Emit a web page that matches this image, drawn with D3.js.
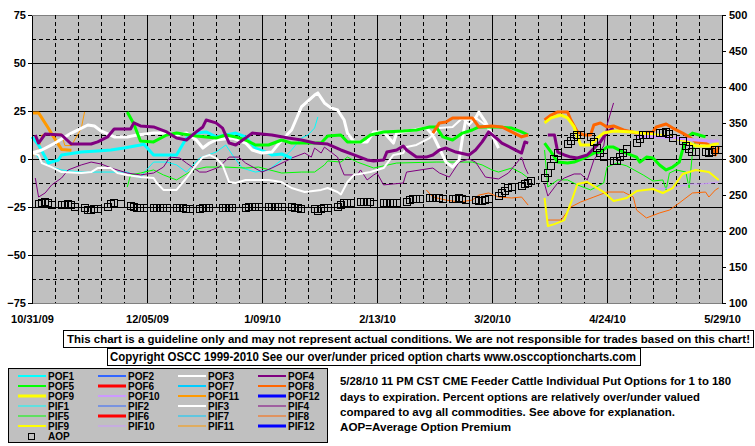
<!DOCTYPE html>
<html><head><meta charset="utf-8">
<script src="https://cdn.jsdelivr.net/npm/d3@7"></script>
<style>
body{margin:0;background:#fff;}
svg{display:block;font-family:"Liberation Sans",Arial,sans-serif;font-weight:bold;}
</style>
</head><body>
<svg id="chart" width="755" height="446"></svg>
<script>
// ---------- DATA ----------
const startDate = "10/31/09", endDate = "5/29/10";
const xTickLabels = ["10/31/09","12/05/09","1/09/10","2/13/10","3/20/10","4/24/10","5/29/10"];
const leftTicks = [-75,-50,-25,0,25,50,75];
const rightTicks = [100,150,200,250,300,350,400,450,500];
const legendNames = ["POF1","POF2","POF3","POF4","POF5","POF6","POF7","POF8","POF9","POF10","POF11","POF12",
                     "PIF1","PIF2","PIF3","PIF4","PIF5","PIF6","PIF7","PIF8","PIF9","PIF10","PIF11","PIF12"];
const disclaimer = "This chart is a guideline only and may not represent actual conditions. We are not responsible for trades based on this chart!";
const copyright = "Copyright OSCC 1999-2010 See our over/under priced option charts www.osccoptioncharts.com";
const descLines = ["5/28/10 11 PM CST CME Feeder Cattle Individual Put Options for 1 to 180",
                   "days to expiration. Percent options are relatively over/under valued",
                   "compared to avg all commodities. See above for explanation.",
                   "AOP=Average Option Premium"];

// series: [days since 10/31/09, percent]; null = break in data
const POF1 = [[0,11.5],[2,7.3],[5,-2.1],[8,-0.5],[9,2.1],[15,3.6],[20,4.2],[24,4.7],[28,5.7],[33,7.3],[34,7.8],[37,2.1],[44,2.1],[47,10.9],[50,13.5],[53,14.1],[56,11.5],[59,12.5],[62,13.5],[65,11.5],[68,5.7],[72,3.1],[73,2.1],[76,2.6],[79,0.5]];
const POF3 = [[0,3.1],[3,4.7],[7,8.3],[12,13.5],[17,17.7],[19,17.2],[21,14.6],[25,11.5],[29,11.5],[32,12.5],[37,13.5],[41,13.5],[44,12.5],[47,13.5],[50,9.9],[52,5.7],[54,8.3],[56,9.9],[61,10.9],[65,8.3],[67,4.7],[70,3.1],[73,3.6],[76,9.9],[79,15.1],[82,27.1],[86,33.3],[87,34.4],[89,29.2],[91,26.6],[93,25.5],[95,20.3],[96,13.5],[98,8.9],[102,8.9],[104,14.1],[107,14.1],[110,8.3],[111,13.5],[116,15.1],[120,16.1],[122,12.5],[126,-1.6],[128,-4.2],[130,-0.5],[131,10.9],[132,20.3],[135,21.4],[136,24.5],[138,19.3],[140,12.5],[142,5.7]];
const POF4 = [[1,12.5],[2,8.3],[4,13],[9,12.5],[12,7.8],[18,7.8],[20,8.9],[23,11.5],[25,15.6],[30,15.6],[31,18.8],[33,17.2],[37,16.7],[41,14.1],[44,10.9],[47,9.9],[50,14.1],[52,16.7],[53,20.3],[56,18.8],[58,16.1],[60,8.3],[62,7.3],[65,10.9],[67,13.5],[73,12.5],[78,10.9],[82,9.9],[86,8.3],[90,7.8],[94,4.7],[98,2.1],[102,-0.5],[104,-1],[107,-0.5],[108,3.6],[111,4.7],[113,6.8],[114,4.7],[117,1],[120,1],[122,2.1],[124,4.7],[126,5.7],[129,3.6],[133,2.1],[135,4.7],[137,8.9],[139,14.1],[142,9.9],[143,8.3],[146,5.7],[149,3.1],[150,8.9],[151,8.3],[153,null],[157,12.5],[159,12.5],[160,3.6],[162,2.1],[164,1],[166,0.5],[169,2.1],[173,8.9],[175,14.1],[177,16.1]];
const POF5 = [[29,24.5],[31,18.2],[33,9.4],[37,8.9],[41,12.5],[44,13.5],[50,12],[56,10.9],[59,12.5],[62,11.5],[65,9.9],[68,7.3],[72,7.3],[76,9.9],[79,8.3],[88,8.3],[90,12],[94,12.5],[96,8.9],[100,8.9],[103,12.5],[107,14.1],[113,14.6],[117,15.1],[121,16.7],[123,16.7],[125,11.5],[128,9.9],[131,13.5],[134,15.1],[136,16.7],[142,16.7],[146,16.1],[149,14.1],[151,12.5],[153,null],[156,8.3],[158,3.6],[160,-1.6],[163,-2.1],[165,-1.6],[168,0.5],[171,3.1],[173,3.6],[175,6.2],[177,6.2],[180,3.6],[184,1],[185,-1.6],[187,1],[189,0.5],[191,-3.1],[193,-5.7],[195,-4.2],[197,-1.6],[198,4.7],[199,10.9],[201,13.5],[203,12.5],[205,11.5]];
const POF8 = [[122,13.5],[124,18.8],[126,19.3],[128,21.4],[131,21.4],[134,21.4],[136,16.7],[140,17.2],[143,16.7],[146,14.1],[149,11.5],[151,12.5],[153,null],[156,20.3],[158,22.9],[160,24.5],[163,24.5],[164,20.3],[166,14.1],[168,12.5],[170,12.5],[171,17.7],[173,18.8],[175,16.7],[177,17.2],[180,15.1],[184,13.5],[189,14.1],[190,16.7],[193,18.2],[195,16.1],[198,13.5],[200,11.5],[202,8.9],[205,8.3],[207,6.2],[208,2.1],[209,6.2]];
const POF9 = [[156,18.8],[158,21.4],[161,22.9],[163,21.4],[165,16.7],[166,11.5],[167,7.3],[170,7.3],[172,10.9],[174,13.5],[177,14.6],[183,14.1],[187,13],[193,12],[198,9.9],[202,6.8],[206,6.8],[209,8.3]];
const POF10 = [[184,12],[191,11.5],[196,10.9],[202,9.9],[206,9.4],[209,9.4]];
const POF11 = [[0,24],[2,24],[5,16],[6,13],[9,5],[12,4.5]];
const PIF1 = [[0,4.7],[3,-1.6],[6,-4.2],[9,-5.7],[15,-6.8],[21,-6.8],[29,-6.8],[33,-9.9],[34,-7.3],[37,-1.6],[41,-1.6],[44,-3.1],[47,-6.8],[51,0.5],[56,3.6],[59,7.3],[61,2.1],[64,-4.7],[68,-6.8],[72,-5.7],[76,-0.5],[79,4.7],[82,10.9],[84,12.5],[86,16.1],[87,21.9]];
const PIF3 = [[0,3.1],[2,2.1],[3,-2.1],[6,-4.2],[9,-6.8],[15,-7.3],[18,-6.8],[20,-4.7],[24,-4.7],[26,-7.3],[29,-8.3],[33,-9.4],[37,-9.9],[38,-12.5],[40,-16.1],[44,-16.1],[47,-9.9],[50,-3.1],[52,1],[54,2.1],[56,0.5],[58,-3.1],[60,-12],[62,-12.5],[65,-10.9],[72,-10.9],[76,-12],[79,-15.1],[83,-17.2],[88,-16.1],[90,-15.1],[93,-17.2],[94,-18.5],[96,-12],[98,-8.3],[103,-6.8],[107,-4.7],[110,2.1],[113,3.1],[114,6.2],[117,7.3],[121,10.9],[124,16.1],[128,16.7],[131,21.4],[133,17.7],[135,21.4],[138,17.7],[140,13.5],[142,9.9]];
const PIF4 = [[1,-9.9],[2,-19.8],[4,-17.7],[6,-13.5],[9,-9.9],[11,-5.7],[15,-3.1],[18,-1.6],[21,-2.6],[25,-5.2],[29,-7.3],[33,-8.3],[37,-7.3],[40,-4.2],[42,1],[45,0.5],[47,-2.1],[51,-6.8],[53,-6.8],[57,-4.2],[60,1],[63,1],[65,-2.1],[70,-6.8],[73,-4.7],[78,-0.5],[79,0.5],[83,3.1],[85,1],[86,5.7],[88,3.1],[89,6.2],[93,1],[94,-4.2],[95,-8.3],[99,-8.3],[100,-5.7],[102,-10.9],[104,-8.3],[105,-7.3],[107,-13.5],[113,-12.5],[114,-6.8],[122,-4.7],[124,-7.3],[127,-9.4],[130,-1.6],[133,0],[135,-1.6],[138,-9.4],[142,-10.4],[145,-7.3],[147,-3.1],[149,1],[150,-4.2],[151,-7.8],[153,null],[156,-13],[157,-19.3],[160,-12.5],[162,-9.9],[165,-7.8],[167,-7.8],[169,-10.9],[171,-0.5],[174,6.8],[175,17.7],[177,29.2]];
const PIF5 = [[29,-14.6],[30,-8.3],[33,-7.3],[37,-5.7],[40,-8.3],[44,-10.9],[49,-5.7],[53,-4.2],[59,-4.2],[65,-4.7],[69,-4.2],[76,-7.3],[82,-6.8],[86,-6.8],[89,-3.1],[90,-1],[94,-1.6],[96,1],[99,-1.6],[104,-4.7],[111,-2.1],[123,-1.6],[134,-1.6],[137,-3.1],[140,-5.7],[142,-6.8],[146,-4.7],[149,-7.3],[151,-9.9],[153,null],[156,4.7],[157,-14.6],[160,-10.9],[163,-10.9],[166,-13.5],[170,-16.1],[174,-12.5],[175,-4.2],[178,-2.1],[181,-3.6],[186,-8.3],[189,-11.5],[192,-10.9],[193,-16.1],[194,-7.3],[196,-5.7],[199,-6.8],[200,-15.1],[201,3.1],[202,9.9]];
const PIF8 = [[120,-16.1],[122,-19.8],[126,-21.4],[130,-22.4],[134,-21.4],[136,-18.8],[139,-17.7],[142,-19.8],[146,-20.3],[149,-19.8],[151,-24],[153,null],[157,-31.8],[161,-31.8],[164,-25],[167,-22.4],[171,-19.8],[175,-17.2],[180,-17.2],[183,-19.8],[184,-26.6],[187,-30.7],[191,-28.1],[194,-26.6],[197,-22.9],[201,-17.7],[205,-17.2],[206,-19.8],[208,-16.1],[209,-15.1]];
const PIF9 = [[156,-20.3],[157,-34.9],[159,-33.9],[162,-31.8],[164,-22.9],[166,-13],[169,-12],[174,-17.2],[177,-21.9],[181,-20.3],[184,-16.7],[189,-15.6],[192,-17.7],[195,-15.1],[198,-7.8],[202,-5.7],[206,-6.8],[209,-10.9]];
const PIF10 = [[185,-16.1],[191,-15.6],[196,-14.6],[200,-13],[204,-13],[209,-12]];
const PIF11 = [[0,1.5],[2,4],[3,12.5],[5,13],[9,13],[10,7],[12,7],[15,16],[16,24.5]];
// Average Option Premium (right axis): [days since 10/31/09, premium]
const AOP = [[2,237.5],[3,238.9],[4,240.3],[5,238.9],[6,236.1],
 [9,236.1],[10,236.1],[11,237.5],[12,236.1],[13,233.3],
 [16,231.9],[17,229.2],[18,229.2],[19,230.6],[20,230.6],
 [23,233.3],[24,237.5],[25,238.9],[27,237.5],
 [30,234.7],[31,233.3],[32,231.9],[33,231.9],[34,231.9],
 [37,231.9],[38,231.9],[39,231.9],[40,231.9],[41,231.9],
 [44,231.9],[45,231.9],[46,231.9],[47,230.6],[48,230.6],
 [51,230.6],[52,231.9],[53,231.9],[54,231.9],
 [58,231.9],[59,231.9],[60,231.9],[61,231.9],
 [65,231.9],[66,233.3],[67,233.3],[68,233.3],[69,233.3],
 [72,233.3],[73,233.3],[74,233.3],[75,233.3],[76,233.3],
 [79,233.3],[80,231.9],[81,231.9],[82,230.6],
 [86,230.6],[87,227.8],[88,230.6],[89,231.9],[90,231.9],
 [93,233.3],[94,236.1],[95,238.9],[96,238.9],[97,238.9],
 [100,240.3],[101,240.3],[102,240.3],[103,240.3],[104,237.5],
 [107,238.9],[108,238.9],[109,238.9],[110,238.9],[111,238.9],
 [114,240.3],[115,243],[116,244.4],[117,245],[118,245],
 [121,245.4],[122,245.4],[123,245.4],[124,245.4],[125,244.4],
 [128,244.4],[129,245],[130,245.8],[131,245],[132,243],
 [135,243],[136,242],[137,242],[138,243],[139,244.4],
 [142,248.6],[143,252.8],[144,255.6],[145,259.7],[146,261.1],
 [149,262.5],[150,265.3],[151,266.7],[152,269.4],
 [156,273.6],[157,280.6],[158,290.3],[159,300],[160,308.3],
 [163,320.8],[164,325],[165,330.6],[166,333.3],[167,333.3],
 [170,330.6],[171,323.6],[172,315.3],[173,308.3],[174,302.8],
 [177,297.2],[178,297.2],[179,302.8],[180,308.3],[181,313.9],
 [184,322.2],[185,327.8],[186,333.3],[187,333.3],[188,333.3],
 [191,336.1],[192,336.1],[193,337.5],[194,334.7],[195,329.2],
 [198,325],[199,318],[200,313.9],[201,309.7],[202,309.7],
 [205,309.7],[206,308.3],[207,309.7],[208,312.5],[209,312.5]];

const seriesData = {POF1, POF3, POF4, POF5, POF8, POF9, POF10, POF11, PIF1, PIF3, PIF4, PIF5, PIF8, PIF9, PIF10, PIF11};

// ---------- STYLE ----------
const colorOf = {1:"#00ffff",2:"#3366ff",3:"#ffffff",4:"#800080",5:"#00ff00",6:"#ff0000",
                 7:"#00ccff",8:"#ff6600",9:"#ffff00",10:"#cc99ff",11:"#ff9900",12:"#0000ff"};
const num = n => +n.replace(/\D+/,"");
const lineW = n => n.startsWith("POF") ? 3 : ([3,9].includes(num(n)) ? 2 : 1);
const legendW = n => n.startsWith("POF") ? ([6,9,12].includes(num(n)) ? 3 : 2) : ([6,12].includes(num(n)) ? 3 : ([3,9].includes(num(n)) ? 2 : 1));

const svg = d3.select("#chart");
const L = 32, R = 722, T = 15, B = 303;
const parse = d3.utcParse("%m/%d/%y");
const t0 = parse(startDate);
const x = d3.scaleUtc().domain([t0, parse(endDate)]).range([L, R]);
const dd = d => new Date(t0.getTime() + d * 864e5);
const y = d3.scaleLinear().domain([-75, 75]).range([B, T]);
const y2 = d3.scaleLinear().domain([100, 500]).range([B, T]);

// plot background
svg.append("rect").attr("x", L).attr("y", T).attr("width", R - L).attr("height", B - T)
  .attr("fill", "#c0c0c0").attr("stroke", "#808080").attr("shape-rendering", "crispEdges");

const grid = svg.append("g").attr("shape-rendering", "crispEdges").attr("stroke", "#000");
leftTicks.filter(v => Math.abs(v) < 75).forEach(v => {
  grid.append("line").attr("x1", L).attr("x2", R).attr("y1", Math.round(y(v)) + 0.5).attr("y2", Math.round(y(v)) + 0.5);
});
d3.range(-62.5, 75, 25).forEach(v => {
  grid.append("line").attr("x1", L).attr("x2", R).attr("y1", Math.round(y(v)) + 0.5).attr("y2", Math.round(y(v)) + 0.5)
    .attr("stroke-dasharray", "4,3");
});
d3.range(7, 210, 7).forEach(d => {
  const xx = Math.round(x(dd(d))) + 0.5;
  const ln = grid.append("line").attr("x1", xx).attr("x2", xx).attr("y1", T).attr("y2", B);
  if (d % 35 !== 0) ln.attr("stroke-dasharray", "4,3");
});

// lines
const line = d3.line().defined(d => d[1] != null).x(d => x(dd(d[0]))).y(d => y(d[1]));
const drawOrder = ["PIF11","PIF1","PIF5","PIF4","PIF8","PIF10","PIF9","PIF3","POF11","POF1","POF3","POF5","POF4","POF8","POF9","POF10"];
drawOrder.forEach(n => {
  svg.append("path").datum(seriesData[n]).attr("d", line).attr("fill", "none")
    .attr("stroke", colorOf[num(n)]).attr("stroke-width", lineW(n)).attr("stroke-linejoin", "round");
});

// AOP squares
svg.append("g").selectAll("rect").data(AOP).join("rect")
  .attr("x", d => Math.round(x(dd(d[0]))) - 3.5).attr("y", d => Math.round(y2(d[1])) - 3.5)
  .attr("width", 7).attr("height", 7).attr("fill", "none").attr("stroke", "#000").attr("stroke-width", 1);

// axes
const axL = svg.append("g").attr("transform", `translate(${L},0)`)
  .call(d3.axisLeft(y).tickValues(leftTicks).tickSize(4).tickSizeOuter(0).tickPadding(2));
const axR = svg.append("g").attr("transform", `translate(${R},0)`)
  .call(d3.axisRight(y2).tickValues(rightTicks).tickSize(4).tickSizeOuter(0).tickPadding(3));
const axB = svg.append("g").attr("transform", `translate(0,${B})`)
  .call(d3.axisBottom(x).tickValues(xTickLabels.map(parse)).tickFormat((d, i) => xTickLabels[i]).tickSize(0).tickPadding(12));
axB.select(".domain").remove();
[axL, axR, axB].forEach(g => {
  g.attr("font-family", null).attr("font-size", null);
  g.selectAll("text").attr("font-size", "11px").attr("font-weight", "bold").attr("fill", "#000");
  g.selectAll("line,path").attr("stroke", "#000").attr("shape-rendering", "crispEdges");
});

// text boxes
function box(x0, y0, w, h, txt, tx, tw, ty, fs) {
  svg.append("rect").attr("x", x0 + 0.5).attr("y", y0 + 0.5).attr("width", w).attr("height", h)
    .attr("fill", "#fff").attr("stroke", "#000").attr("shape-rendering", "crispEdges");
  svg.append("text").attr("x", tx).attr("y", ty).attr("font-size", fs + "px")
    .attr("textLength", tw).attr("lengthAdjust", "spacingAndGlyphs").text(txt);
}
box(63, 330, 690, 17, disclaimer, 67, 683, 343, 11.5);
box(107, 348, 533, 17, copyright, 110, 526, 361, 12);

// legend
svg.append("rect").attr("x", 8.5).attr("y", 368.5).attr("width", 319).attr("height", 74)
  .attr("fill", "#c0c0c0").attr("stroke", "#000").attr("shape-rendering", "crispEdges");
const lg = svg.append("g");
legendNames.forEach((n, i) => {
  const col = i % 4, row = Math.floor(i / 4);
  const lx = 18 + col * 80, ly = 376 + row * 10;
  lg.append("line").attr("x1", lx).attr("x2", lx + 28).attr("y1", ly).attr("y2", ly)
    .attr("stroke", colorOf[num(n)]).attr("stroke-width", legendW(n));
  lg.append("text").attr("x", lx + 30).attr("y", ly + 3.5).attr("font-size", "10px").text(n);
});
lg.append("rect").attr("x", 28.5).attr("y", 433.5).attr("width", 6).attr("height", 6)
  .attr("fill", "none").attr("stroke", "#000").attr("shape-rendering", "crispEdges");
lg.append("text").attr("x", 48).attr("y", 439.5).attr("font-size", "10px").text("AOP");

// description
const descW = [391, 360, 335, 171];
const descY = [385, 401, 416, 431];
descLines.forEach((s, i) => {
  svg.append("text").attr("x", 340).attr("y", descY[i]).attr("font-size", "11px")
    .attr("textLength", descW[i]).attr("lengthAdjust", "spacingAndGlyphs").text(s);
});
</script>
</body></html>
